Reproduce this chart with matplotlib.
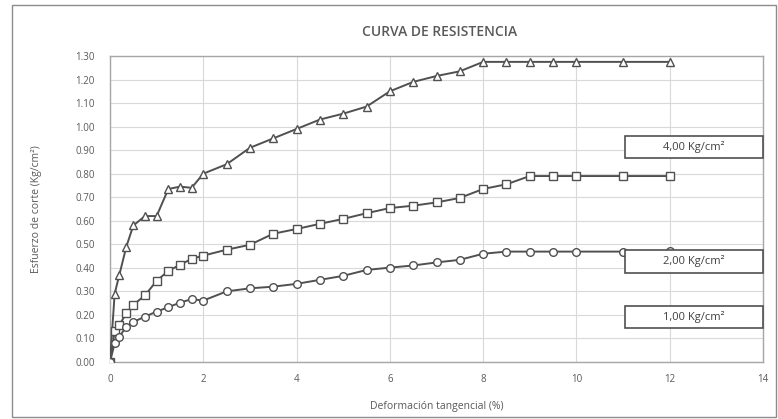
import matplotlib
matplotlib.use("Agg")
import matplotlib.pyplot as plt
from matplotlib.patches import Rectangle

# ---- data ----
deformacion = [0, 0.1, 0.2, 0.35, 0.5, 0.75, 1.0, 1.25, 1.5, 1.75, 2.0, 2.5, 3.0, 3.5,
               4.0, 4.5, 5.0, 5.5, 6.0, 6.5, 7.0, 7.5, 8.0, 8.5, 9.0, 9.5, 10, 11, 12]
esf_4 = [0, 0.29, 0.37, 0.49, 0.58, 0.62, 0.62, 0.735, 0.745, 0.74, 0.80, 0.84, 0.91, 0.95,
         0.99, 1.03, 1.055, 1.085, 1.15, 1.19, 1.215, 1.235, 1.275, 1.275, 1.275, 1.275,
         1.275, 1.275, 1.275]
esf_2 = [0, 0.13, 0.157, 0.207, 0.243, 0.283, 0.345, 0.387, 0.413, 0.438, 0.452, 0.477,
         0.498, 0.545, 0.565, 0.587, 0.608, 0.632, 0.654, 0.664, 0.678, 0.697, 0.735,
         0.755, 0.79, 0.79, 0.79, 0.79, 0.79]
esf_1 = [0, 0.08, 0.107, 0.15, 0.17, 0.193, 0.214, 0.233, 0.252, 0.267, 0.261, 0.30,
         0.313, 0.32, 0.332, 0.349, 0.366, 0.391, 0.401, 0.41, 0.423, 0.434, 0.46,
         0.469, 0.469, 0.469, 0.469, 0.469, 0.47]
etiquetas = ["4,00 Kg/cm²", "2,00 Kg/cm²", "1,00 Kg/cm²"]
x_ticks = [0, 2, 4, 6, 8, 10, 12, 14]
y_ticks = [i / 10 for i in range(0, 14)]

plt.rcParams['font.family'] = ['Open Sans', 'DejaVu Sans']

fig = plt.figure(figsize=(7.78, 4.19), dpi=100)
ax = fig.add_axes([110/778, 1-362/419, (763-110)/778, (362-56)/419])

# outer border
fig.patches.append(Rectangle((12/778, 2/419), (776-12)/778, (414-2)/419,
                             transform=fig.transFigure, fill=False,
                             edgecolor='#8c8c8c', linewidth=1.0))

lc = '#505050'
series = [(esf_4, '^'), (esf_2, 's'), (esf_1, 'o')]
for vals, mk in series:
    ax.plot(deformacion, vals, color=lc, linewidth=1.4, marker=mk, markersize=5.5,
            markerfacecolor='white', markeredgecolor=lc, markeredgewidth=1.0, zorder=3)

ax.set_xlim(0, 14)
ax.set_ylim(0, 1.30)
ax.set_xticks(x_ticks)
ax.set_yticks(y_ticks)
ax.set_yticklabels([f"{v:.2f}" for v in y_ticks])
ax.tick_params(axis='both', length=0, labelsize=7, colors='#595959')
ax.tick_params(axis='x', pad=9)
ax.tick_params(axis='y', pad=11)
ax.grid(True, color='#d9d9d9', linewidth=0.8)
ax.set_axisbelow(True)
for s in ax.spines.values():
    s.set_color('#a6a6a6')
    s.set_linewidth(1.0)

ax.set_xlabel("Deformación tangencial (%)", fontsize=7.5, color='#595959', labelpad=11)
ax.set_ylabel("Esfuerzo de corte (Kg/cm²)", fontsize=7.5, color='#595959', labelpad=24)
fig.text(440/778, 1-32/419, "CURVA DE RESISTENCIA", ha='center', va='center',
         fontsize=10, fontweight='semibold', color='#595959')

# label boxes (positions in data coords)
boxes = [(0.868, 0.959), (0.379, 0.477), (0.145, 0.238)]
for lab, (y0, y1) in zip(etiquetas, boxes):
    x0 = 11.04
    ax.add_patch(Rectangle((x0, y0), 14.0 - x0, y1 - y0, facecolor='white',
                           edgecolor='#505050', linewidth=1.2, zorder=5, clip_on=False))
    ax.text((x0 + 14.0) / 2, (y0 + y1) / 2, lab, ha='center', va='center',
            fontsize=8, color='#404040', zorder=6)

fig.savefig("out.png", dpi=100)
